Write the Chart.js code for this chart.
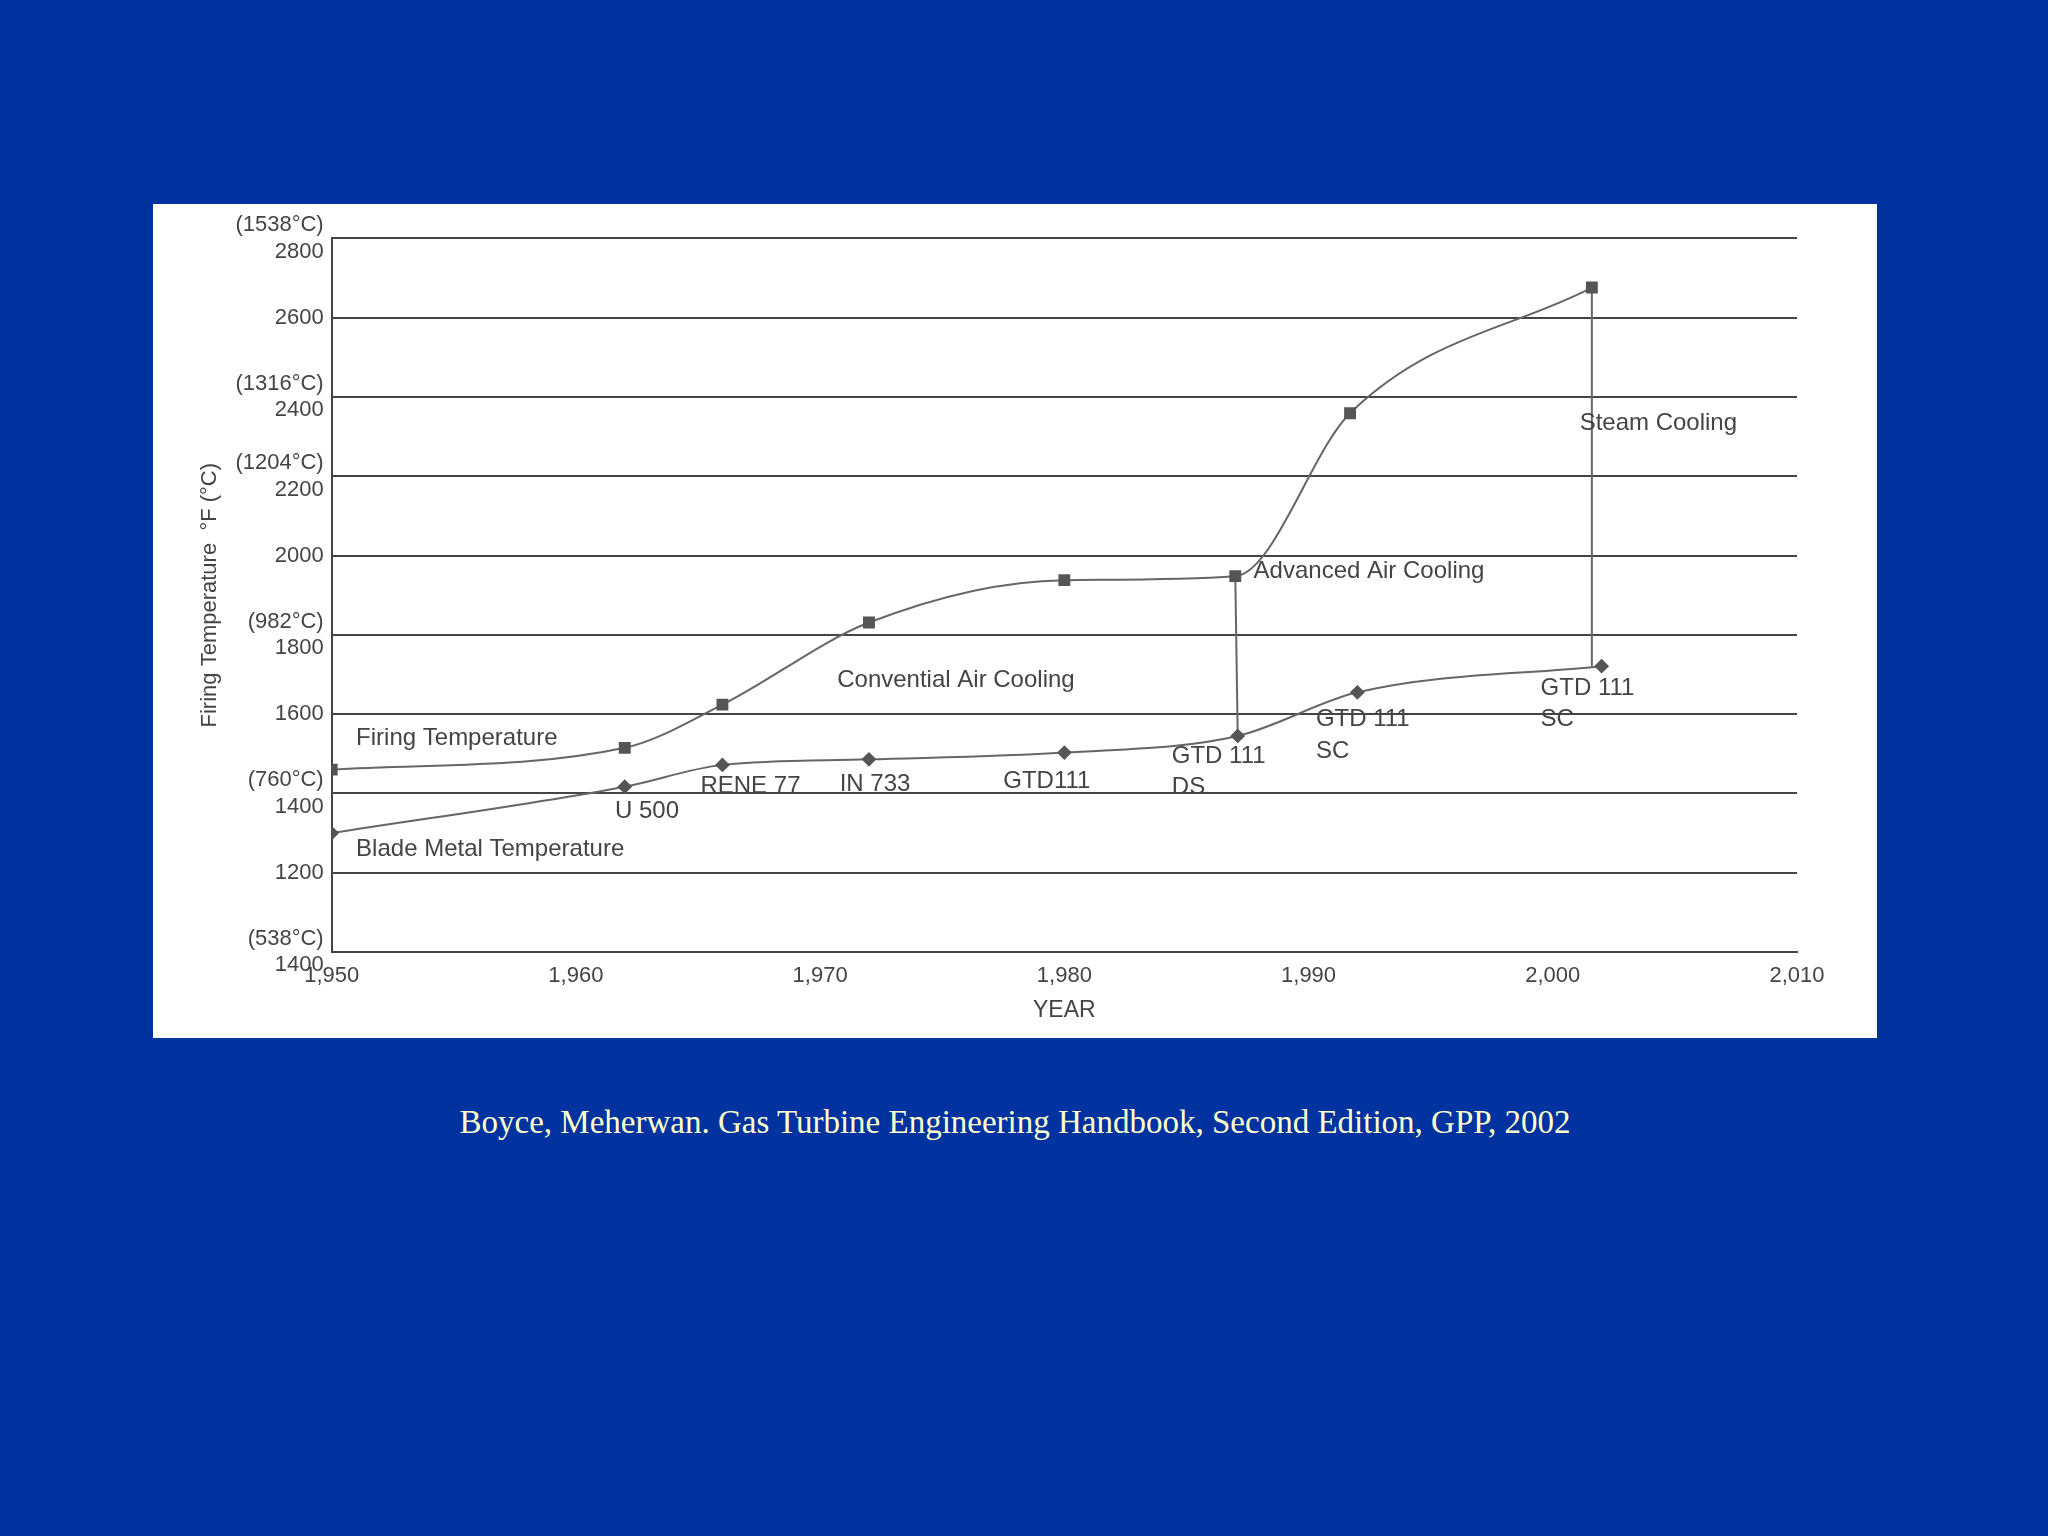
<!DOCTYPE html>
<html>
<head>
<meta charset="utf-8">
<script src="https://cdn.jsdelivr.net/npm/chart.js@4/dist/chart.umd.min.js"></script>
<style>
  body { margin: 0; width: 2048px; height: 1536px; background: #0033a0; position: relative; overflow: hidden; }
  #panel { position: absolute; left: 153px; top: 204px; width: 1724px; height: 834px; background: #fff; }
  #caption { position: absolute; top: 1104px; left: 0; width: 2030px; text-align: center;
    font-family: "Liberation Serif", serif; font-size: 33px; color: #ffffcc; }
</style>
</head>
<body>
<div id="panel"><canvas id="chart" width="1724" height="834"></canvas></div>
<div id="caption">Boyce, Meherwan. Gas Turbine Engineering Handbook, Second Edition, GPP, 2002</div>
<script>
const firingYears = [1950, 1962, 1966, 1972, 1980, 1987, 1991.7, 2001.6];
const firingTemps = [1460, 1515, 1624, 1831, 1938, 1948, 2359, 2676];
const bladeYears = [1950, 1962, 1966, 1972, 1980, 1987.1, 1992, 2002];
const bladeTemps = [1300, 1417, 1472, 1486, 1503, 1545, 1655, 1721];
const yTicks = [1000, 1200, 1400, 1600, 1800, 2000, 2200, 2400, 2600, 2800];
const yTickLabels = {
  1000: ['(538°C)', '1400'], 1200: '1200', 1400: ['(760°C)', '1400'], 1600: '1600',
  1800: ['(982°C)', '1800'], 2000: '2000', 2200: ['(1204°C)', '2200'],
  2400: ['(1316°C)', '2400'], 2600: '2600', 2800: ['(1538°C)', '2800']
};
const notes = [
  ['Firing Temperature', 1951, 1538],
  ['Blade Metal Temperature', 1951, 1259],
  ['U 500', 1961.6, 1355],
  ['RENE 77', 1965.1, 1417],
  ['IN 733', 1970.8, 1424],
  ['GTD111', 1977.5, 1431],
  ['GTD 111', 1984.4, 1493], ['DS', 1984.4, 1414],
  ['GTD 111', 1990.3, 1586], ['SC', 1990.3, 1507],
  ['GTD 111', 1999.5, 1665], ['SC', 1999.5, 1586],
  ['Convential Air Cooling', 1970.7, 1686],
  ['Advanced Air Cooling', 1987.75, 1959],
  ['Steam Cooling', 2001.1, 2334]
];

const pts = (xs, ys) => xs.map((x, i) => ({ x: x, y: ys[i] }));

const notesPlugin = {
  id: 'notes',
  afterDatasetsDraw(chart) {
    const c = chart.ctx, sx = chart.scales.x, sy = chart.scales.y;
    c.save();
    c.font = '24px "Liberation Sans", Arial, sans-serif';
    c.fillStyle = '#444';
    c.textAlign = 'left';
    c.textBaseline = 'middle';
    notes.forEach(n => c.fillText(n[0], sx.getPixelForValue(n[1]), sy.getPixelForValue(n[2])));
    c.restore();
  }
};

new Chart(document.getElementById('chart'), {
  type: 'scatter',
  data: {
    datasets: [
      { data: pts(firingYears, firingTemps), showLine: true, borderColor: '#666', borderWidth: 2,
        cubicInterpolationMode: 'monotone', pointStyle: 'rect', pointRadius: 7,
        pointBackgroundColor: '#555', pointBorderColor: '#555' },
      { data: pts(bladeYears, bladeTemps), showLine: true, borderColor: '#666', borderWidth: 2,
        cubicInterpolationMode: 'monotone', pointStyle: 'rectRot', pointRadius: 6,
        pointBackgroundColor: '#555', pointBorderColor: '#555' },
      { data: pts([firingYears[5], bladeYears[5]], [firingTemps[5], bladeTemps[5]]), showLine: true,
        borderColor: '#666', borderWidth: 2, pointRadius: 0 },
      { data: pts([firingYears[7], firingYears[7]], [firingTemps[7], bladeTemps[7]]), showLine: true,
        borderColor: '#666', borderWidth: 2, pointRadius: 0 }
    ]
  },
  options: {
    responsive: false,
    animation: false,
    layout: { padding: { left: 40, top: 20, right: 80, bottom: 10 } },
    plugins: { legend: { display: false }, tooltip: { enabled: false } },
    scales: {
      x: {
        type: 'linear', min: 1950, max: 2010,
        ticks: { stepSize: 10, color: '#444', font: { size: 22, family: 'Liberation Sans' } },
        grid: { display: false },
        border: { color: '#444', width: 2 },
        title: { display: true, text: 'YEAR', color: '#444', font: { size: 23, family: 'Liberation Sans' } }
      },
      y: {
        min: 1000, max: 2800,
        afterBuildTicks: ax => { ax.ticks = yTicks.map(v => ({ value: v })); },
        ticks: { color: '#444', font: { size: 22, family: 'Liberation Sans' }, padding: 8,
          callback: v => yTickLabels[v] },
        grid: { color: '#444', lineWidth: 2, drawTicks: false },
        border: { color: '#444', width: 2 },
        title: { display: true, text: 'Firing Temperature  °F (°C)', color: '#444',
          font: { size: 22, family: 'Liberation Sans' } }
      }
    }
  },
  plugins: [notesPlugin]
});
</script>
</body>
</html>
